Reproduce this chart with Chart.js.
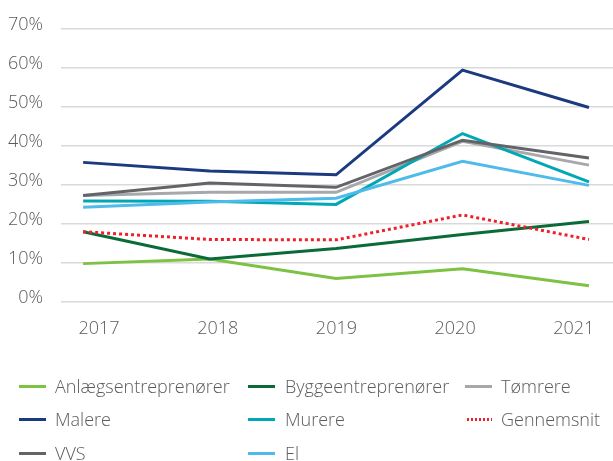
<!DOCTYPE html>
<html>
<head>
<meta charset="utf-8">
<script src="https://cdn.jsdelivr.net/npm/chart.js@4/dist/chart.umd.min.js"></script>
<style>
  html, body { margin: 0; padding: 0; background: #fff; }
  #wrap { position: relative; width: 613px; height: 461px; overflow: hidden; }
  #chartBox { position: absolute; left: 0; top: 0; width: 613px; height: 365px; }
  #legend { position: absolute; left: 0; top: 0; width: 613px; height: 461px; font-family: "Open Sans", sans-serif; font-weight: 300; font-size: 18px; color: #5a5b5e; }
  .item { position: absolute; height: 24px; line-height: 24px; white-space: nowrap; }
  .swatch { position: absolute; left: 0; top: 11px; width: 27px; height: 3px; }
  .label { position: absolute; top: 0; }
</style>
</head>
<body>
<div id="wrap">
  <div id="chartBox"><canvas id="chart"></canvas></div>
  <div id="legend"></div>
</div>
<script>
// =============================
// DATA
// =============================
const years = [2017, 2018, 2019, 2020, 2021];
const yTicks = [0, 10, 20, 30, 40, 50, 60, 70];

const anlaeg = [9.7, 10.9, 5.9, 8.4, 4.0];
const bygge = [17.9, 10.9, 13.6, 17.2, 20.5];
const toemrere = [27.2, 28.0, 28.0, 41.1, 35.0];
const malere = [35.7, 33.5, 32.5, 59.4, 49.8];
const murere = [25.8, 25.7, 24.9, 43.1, 30.7];
const gennemsnit = [17.9, 15.9, 15.8, 22.2, 15.9];
const vvs = [27.2, 30.4, 29.3, 41.4, 36.8];
const el = [24.2, 25.5, 26.5, 36.0, 29.8];

const seriesNames = ["Anlægsentreprenører", "Byggeentreprenører", "Tømrere", "Malere", "Murere", "Gennemsnit", "VVS", "El"];
const seriesValues = [anlaeg, bygge, toemrere, malere, murere, gennemsnit, vvs, el];
const seriesColors = ["#7dc243", "#0b6b38", "#a6a8ab", "#1b3a80", "#00a8b5", "#f0202a", "#636467", "#4fbbea"];
const dottedSeries = ["Gennemsnit"];

const TEXT = "#5a5b5e";
const FONT = { family: "'Open Sans', sans-serif", size: 18, weight: 300 };

// =============================
// DATASETS
// =============================
const datasets = seriesNames.map((name, i) => {
    const dotted = dottedSeries.includes(name);
    return {
        label: name,
        data: seriesValues[i].map((v, j) => ({ x: years[j], y: v })),
        borderColor: seriesColors[i],
        backgroundColor: seriesColors[i],
        borderWidth: 3,
        borderDash: dotted ? [3, 3] : [],
        borderCapStyle: "butt",
        pointRadius: 0,
        tension: 0,
        fill: false,
        xAxisID: "x",
        order: seriesNames.length - i
    };
});

new Chart(document.getElementById("chart"), {
    type: "line",
    data: { datasets: datasets },
    options: {
        responsive: true,
        maintainAspectRatio: false,
        animation: false,
        layout: { padding: { top: 26, left: 7, right: 0, bottom: 8 } },
        plugins: { legend: { display: false }, tooltip: { enabled: false } },
        scales: {
            // axis the lines are drawn on
            x: {
                type: "linear",
                display: false,
                min: 2016.825,
                max: 2021.19
            },
            // axis that only carries the year labels
            xLabels: {
                type: "linear",
                position: "bottom",
                min: 2016.68,
                max: 2021.33,
                afterBuildTicks: s => { s.ticks = years.map(v => ({ value: v })); },
                afterFit: s => { s.paddingLeft = 0; s.paddingRight = 0; },
                grid: { display: false, drawTicks: false },
                border: { display: false },
                ticks: {
                    color: TEXT,
                    font: FONT,
                    padding: 17,
                    maxRotation: 0,
                    autoSkip: false,
                    callback: v => String(v)
                }
            },
            y: {
                min: 0,
                max: 70,
                afterBuildTicks: s => { s.ticks = yTicks.map(v => ({ value: v })); },
                afterFit: s => { s.width = 54; },
                grid: { color: "#d9d9d9", lineWidth: 1.5, drawTicks: false },
                border: { display: false },
                ticks: {
                    color: TEXT,
                    font: FONT,
                    padding: 18,
                    labelOffset: -4,
                    callback: v => v + "%"
                }
            }
        }
    }
});

// =============================
// LEGEND (3 columns)
// =============================
const colX = [19, 248, 465];
const rowY = [374, 407, 441];
const legend = document.getElementById("legend");
seriesNames.forEach((name, i) => {
    const item = document.createElement("div");
    item.className = "item";
    item.style.left = colX[i % 3] + "px";
    item.style.top = rowY[Math.floor(i / 3)] + "px";
    const sw = document.createElement("div");
    sw.className = "swatch";
    if (dottedSeries.includes(name)) {
        sw.style.background = `repeating-linear-gradient(90deg, ${seriesColors[i]} 0 2px, transparent 2px 4px)`;
        sw.style.left = "2px";
        sw.style.width = "25px";
    } else {
        sw.style.background = seriesColors[i];
    }
    const lb = document.createElement("span");
    lb.className = "label";
    lb.style.left = (i % 3 === 1 ? 37 : 36) + "px";
    lb.textContent = name;
    item.appendChild(sw);
    item.appendChild(lb);
    legend.appendChild(item);
});
</script>
</body>
</html>
